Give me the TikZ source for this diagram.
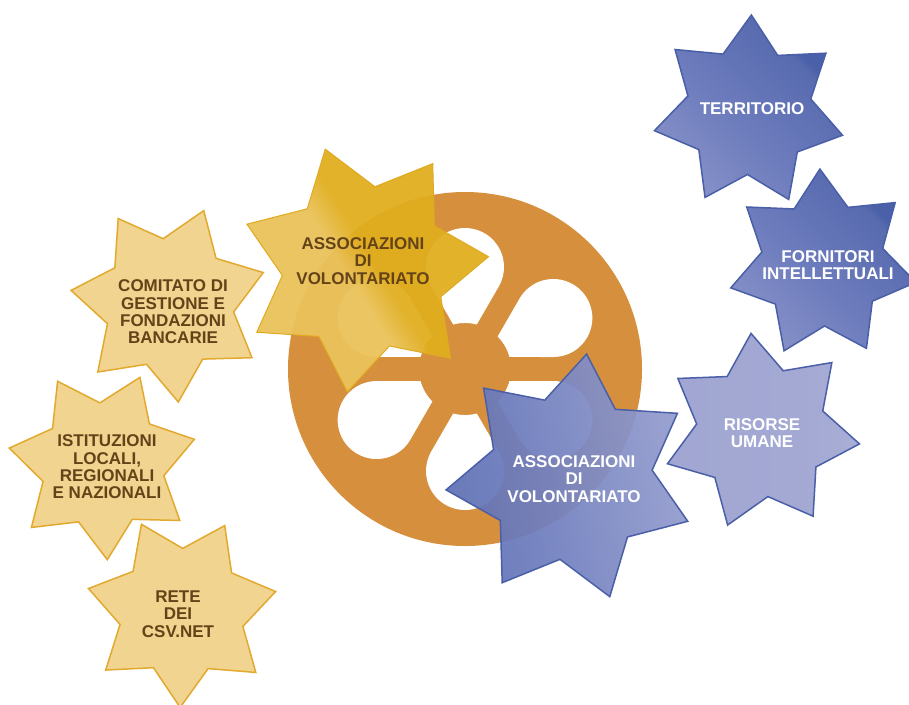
\documentclass[tikz,border=0pt]{standalone}
\usepackage{fontspec}
\setmainfont{Liberation Sans}
\definecolor{wheelorange}{HTML}{D68F3C}
\definecolor{sandfill}{HTML}{F0D48F}
\definecolor{sandedge}{HTML}{E2A92F}
\definecolor{goldfill}{HTML}{E0AE1F}
\definecolor{goldshine}{HTML}{EAC25A}
\definecolor{goldedge}{HTML}{E0AA20}
\definecolor{bluedeep}{HTML}{4A60A8}
\definecolor{bluemid}{HTML}{6D7CBD}
\definecolor{bluesoft}{HTML}{A3A9D3}
\definecolor{blueedge}{HTML}{4A5FA7}
\definecolor{txtbrown}{HTML}{654319}
% colour sweeps used inside the stars
\pgfdeclarehorizontalshading{goldsweep}{100bp}{color(0bp)=(goldshine); color(46bp)=(goldshine); color(52bp)=(goldfill); color(100bp)=(goldfill)}
\pgfdeclarehorizontalshading{bluesweep}{100bp}{color(0bp)=(bluesoft); color(45bp)=(bluemid); color(68bp)=(bluedeep!85!bluesoft); color(70bp)=(bluedeep); color(100bp)=(bluedeep)}
\pgfdeclarehorizontalshading{bluerise}{100bp}{color(0bp)=(bluedeep); color(40bp)=(bluemid); color(100bp)=(bluesoft!85!white)}
\pgfdeclarehorizontalshading{bluepale}{100bp}{color(0bp)=(bluesoft!95!bluedeep); color(60bp)=(bluesoft); color(100bp)=(bluesoft!85!white)}

% seven-pointed star: style, centre x, centre y, outer radius, inner radius, angle of first point
\newcommand\sevenstar[6]{%
  \path[#1, shift={(#2,#3)}] ({-(#6)}:#4)
    \foreach \k in {1,...,6}{ -- ({-(#6)-51.4286*\k+25.7143}:#5) -- ({-(#6)-51.4286*\k}:#4)}
    -- ({-(#6)-51.4286*7+25.7143}:#5) -- cycle;}

% one tear-shaped opening of the reel, pointing along the given angle
\newcommand\reelhole[1]{%
  \fill[white, shift={(wheelhub)}, rotate=#1]
    (44.5,-11.8) -- (82.5,-33.77)
    arc[start angle=240, end angle=480, radius=39]
    -- (44.5,11.8)
    arc[start angle=14.85, end angle=-14.85, radius=46] -- cycle;}

\begin{document}
\begin{tikzpicture}[x=1pt,y=-1pt,
  lbl/.style={font=\bfseries\fontsize{17}{17.4}\selectfont, align=center, inner sep=0pt},
  brownlbl/.style={lbl, text=txtbrown},
  whitelbl/.style={lbl, text=white},
  sandstar/.style={fill=sandfill, draw=sandedge, line width=1.5pt, line join=miter},
  goldstar/.style={shade, shading=goldsweep, shading angle=32, fill opacity=0.95, draw=goldedge, line width=1pt},
  bluestar/.style={shade, shading=bluesweep, shading angle=45, draw=blueedge, line width=1.5pt},
  bluecore/.style={shade, shading=bluerise, shading angle=10, fill opacity=0.94, draw=blueedge, line width=1.5pt},
  bluesoftstar/.style={shade, shading=bluepale, draw=blueedge, line width=1.5pt}]
\useasboundingbox (0,0) rectangle (909,704);

% the reel
\coordinate (wheelhub) at (465,369);
\fill[wheelorange] (wheelhub) circle (177);
\foreach \a in {30,90,...,330}{\reelhole{\a}}

% left-hand group
\sevenstar{sandstar}{169.2}{303.4}{99}{65}{-84.7}
\node[brownlbl] (comitato) at (173,312) {COMITATO DI\\GESTIONE E\\FONDAZIONI\\BANCARIE};
\sevenstar{sandstar}{102.8}{464.8}{95}{62}{-87.3}
\node[brownlbl] (istituzioni) at (107,467) {ISTITUZIONI\\LOCALI,\\REGIONALI\\E NAZIONALI};
\sevenstar{sandstar}{181.7}{611.4}{96}{63}{114.8}
\node[brownlbl] (rete) at (178,614) {RETE\\DEI\\CSV.NET};

% central star over the reel
\sevenstar{goldstar}{364}{268}{125}{82}{5.2}
\node[brownlbl] (assocA) at (363,261) {ASSOCIAZIONI\\DI\\VOLONTARIATO};

% right-hand group
\sevenstar{bluestar}{749}{111.5}{96.5}{63}{88.6}
\node[whitelbl] (territorio) at (752,109) {TERRITORIO};
\sevenstar{bluestar}{822.7}{264}{95}{62}{91.7}
\node[whitelbl] (fornitori) at (828,265) {FORNITORI\\INTELLETTUALI};
\sevenstar{bluesoftstar}{761.2}{431.9}{99}{65}{95.9}
\node[whitelbl] (risorse) at (762,433) {RISORSE\\UMANE};

\sevenstar{bluecore}{570.5}{478}{125}{82}{82.6}
\node[whitelbl] (assocB) at (574,479) {ASSOCIAZIONI\\DI\\VOLONTARIATO};
\end{tikzpicture}
\end{document}
